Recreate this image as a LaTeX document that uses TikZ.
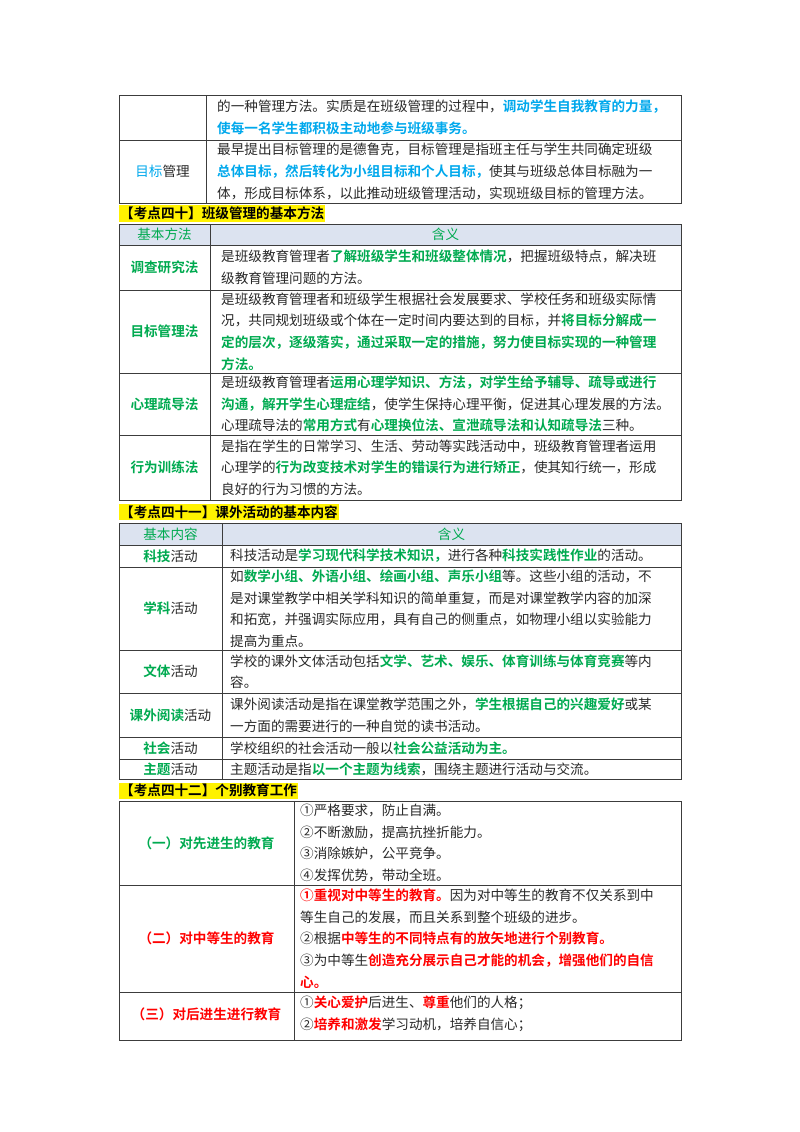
\documentclass[tikz,border=0pt]{standalone}
\usepackage{fontspec}
\setmainfont{Noto Sans CJK SC}[BoldFont={Noto Sans CJK SC Bold}]
\definecolor{tg}{RGB}{0,170,80}
\definecolor{tb}{RGB}{0,168,236}
\definecolor{tr}{RGB}{255,0,0}
\definecolor{hd}{RGB}{220,227,240}
\definecolor{ln}{RGB}{60,60,60}
\definecolor{tx}{RGB}{40,40,40}
\newcommand\G[1]{{\color{tg}\bfseries #1}}
\newcommand\B[1]{{\color{tb}\bfseries #1}}
\newcommand\Rd[1]{{\color{tr}\bfseries #1}}
\newcommand\Bn[1]{{\color{tb}#1}}
\begin{document}
\begin{tikzpicture}[x=1pt,y=-1pt,
  grid/.style={draw=ln,line width=0.9pt},
  txt/.style={anchor=west,align=left,inner sep=0pt,text=tx,font=\fontsize{13.6}{21.6}\selectfont},
  lab/.style={anchor=center,align=center,inner sep=0pt,text=tx,font=\fontsize{13.6}{21.6}\selectfont},
  head/.style={anchor=west,fill=yellow,inner xsep=1pt,inner ysep=1.5pt,font=\fontsize{13.6}{16}\selectfont\bfseries}]
\useasboundingbox (0,0) rectangle (800,1132);
% ---------- table 1 ----------
\draw[grid] (119,95) rectangle (681,203);
\draw[grid] (119,140) -- (681,140);
\draw[grid] (206,95) -- (206,203);
\node[txt] (t1a) at (217,117.5) {的一种管理方法。实质是在班级管理的过程中，\B{调动学生自我教育的力量，}\\\B{使每一名学生都积极主动地参与班级事务。}};
\node[lab] (t1bl) at (162.5,171.5) {\Bn{目标}管理};
\node[txt] (t1b) at (217,171.5) {最早提出目标管理的是德鲁克，目标管理是指班主任与学生共同确定班级\\\B{总体目标，然后转化为小组目标和个人目标，}使其与班级总体目标融为一\\体，形成目标体系，以此推动班级管理活动，实现班级目标的管理方法。};
% ---------- heading 40 ----------
\node[head] (h40) at (119,213.5) {【考点四十】班级管理的基本方法};
% ---------- table 2 ----------
\fill[hd] (119,224) rectangle (681,245);
\draw[grid] (119,224) rectangle (681,500);
\foreach \yy in {245,290,373,435} \draw[grid] (119,\yy) -- (681,\yy);
\draw[grid] (210,224) -- (210,500);
\node[lab] (t2h1) at (164.5,234.5) {\color{tg}基本方法};
\node[lab] (t2h2) at (445.5,234.5) {\color{tg}含义};
\node[lab] (t2l1) at (164.5,267.5) {\G{调查研究法}};
\node[txt] (t2r1) at (221,267.5) {是班级教育管理者\G{了解班级学生和班级整体情况}，把握班级特点，解决班\\级教育管理问题的方法。};
\node[lab] (t2l2) at (164.5,331.5) {\G{目标管理法}};
\node[txt] (t2r2) at (221,331.5) {是班级教育管理者和班级学生根据社会发展要求、学校任务和班级实际情\\况，共同规划班级或个体在一定时间内要达到的目标，并\G{将目标分解成一}\\\G{定的层次，逐级落实，通过采取一定的措施，努力使目标实现的一种管理}\\\G{方法。}};
\node[lab] (t2l3) at (164.5,404) {\G{心理疏导法}};
\node[txt] (t2r3) at (221,404) {是班级教育管理者\G{运用心理学知识、方法，对学生给予辅导、疏导或进行}\\\G{沟通，解开学生心理症结}，使学生保持心理平衡，促进其心理发展的方法。\\心理疏导法的\G{常用方式}有\G{心理换位法、宣泄疏导法和认知疏导法}三种。};
\node[lab] (t2l4) at (164.5,467.5) {\G{行为训练法}};
\node[txt] (t2r4) at (221,467.5) {是指在学生的日常学习、生活、劳动等实践活动中，班级教育管理者运用\\心理学的\G{行为改变技术对学生的错误行为进行矫正}，使其知行统一，形成\\良好的行为习惯的方法。};
% ---------- heading 41 ----------
\node[head] (h41) at (119,512) {【考点四十一】课外活动的基本内容};
% ---------- table 3 ----------
\fill[hd] (119,523) rectangle (681,545);
\draw[grid] (119,523) rectangle (681,779);
\foreach \yy in {545,567,650,693,737,759} \draw[grid] (119,\yy) -- (681,\yy);
\draw[grid] (222,523) -- (222,779);
\node[lab] (t3h1) at (170.5,534) {\color{tg}基本内容};
\node[lab] (t3h2) at (451.5,534) {\color{tg}含义};
\node[lab] (t3l1) at (170.5,556) {\G{科技}活动};
\node[txt] (t3r1) at (230,556) {科技活动是\G{学习现代科学技术知识，}进行各种\G{科技实践性作业}的活动。};
\node[lab] (t3l2) at (170.5,608.5) {\G{学科}活动};
\node[txt] (t3r2) at (230,608.5) {如\G{数学小组、外语小组、绘画小组、声乐小组}等。这些小组的活动，不\\是对课堂教学中相关学科知识的简单重复，而是对课堂教学内容的加深\\和拓宽，并强调实际应用，具有自己的侧重点，如物理小组以实验能力\\提高为重点。};
\node[lab] (t3l3) at (170.5,671.5) {\G{文体}活动};
\node[txt] (t3r3) at (230,671.5) {学校的课外文体活动包括\G{文学、艺术、娱乐、体育训练与体育竞赛}等内\\容。};
\node[lab] (t3l4) at (170.5,715) {\G{课外阅读}活动};
\node[txt] (t3r4) at (230,715) {课外阅读活动是指在课堂教学范围之外，\G{学生根据自己的兴趣爱好}或某\\一方面的需要进行的一种自觉的读书活动。};
\node[lab] (t3l5) at (170.5,748) {\G{社会}活动};
\node[txt] (t3r5) at (230,748) {学校组织的社会活动一般以\G{社会公益活动为主。}};
\node[lab] (t3l6) at (170.5,769) {\G{主题}活动};
\node[txt] (t3r6) at (230,769) {主题活动是指\G{以一个主题为线索}，围绕主题进行活动与交流。};
% ---------- heading 42 ----------
\node[head] (h42) at (119,790.5) {【考点四十二】个别教育工作};
% ---------- table 4 ----------
\draw[grid] (119,801) rectangle (681,1040);
\foreach \yy in {885,992} \draw[grid] (119,\yy) -- (681,\yy);
\draw[grid] (294,801) -- (294,1040);
\node[lab] (t4l1) at (206.5,843) {\G{（一）对先进生的教育}};
\node[txt] (t4r1) at (300,843) {①严格要求，防止自满。\\②不断激励，提高抗挫折能力。\\③消除嫉妒，公平竞争。\\④发挥优势，带动全班。};
\node[lab] (t4l2) at (206.5,938.5) {\Rd{（二）对中等生的教育}};
\node[txt] (t4r2) at (300,938.5) {\Rd{①重视对中等生的教育。}因为对中等生的教育不仅关系到中\\等生自己的发展，而且关系到整个班级的进步。\\②根据\Rd{中等生的不同特点有的放矢地进行个别教育。}\\③为中等生\Rd{创造充分展示自己才能的机会，增强他们的自信}\\\Rd{心。}};
\node[lab] (t4l3) at (206.5,1014) {\Rd{（三）对后进生进行教育}};
\node[txt] (t4r3) at (300,1014) {①\Rd{关心爱护}后进生、\Rd{尊重}他们的人格；\\②\Rd{培养和激发}学习动机，培养自信心；};
\end{tikzpicture}
\end{document}
